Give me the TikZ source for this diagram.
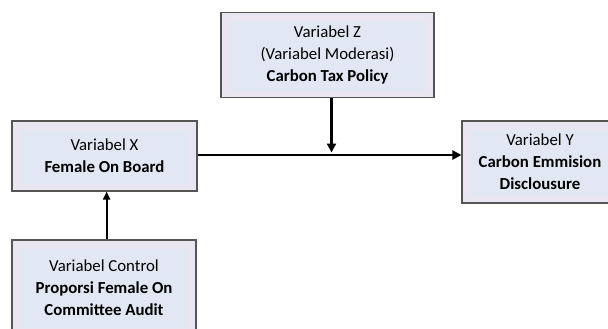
\documentclass[tikz,border=0pt]{standalone}
\usepackage{fontspec}
\setmainfont{Carlito}
\usetikzlibrary{arrows.meta}
\definecolor{boxouter}{RGB}{233,230,241}
\definecolor{boxinner}{RGB}{226,232,243}
\definecolor{boxline}{RGB}{85,85,85}
\tikzset{
  varbox/.style={draw=boxline, line width=1.1pt, fill=boxouter, rectangle, align=center,
    inner sep=0pt, font=\fontsize{16.8}{22}\selectfont,
    path picture={\fill[boxinner] ([shift={(8pt,-9pt)}]path picture bounding box.north west) rectangle ([shift={(-8pt,7pt)}]path picture bounding box.south east);}},
  mainarrow/.style={line width=2.8pt, -{Triangle[length=9pt,width=9pt]}},
  thinarrow/.style={line width=2pt, -{Triangle[length=8pt,width=7pt]}}
}
\begin{document}
\begin{tikzpicture}[x=1pt,y=-1pt]
\clip (0,0) rectangle (608,329);
\fill[white] (0,0) rectangle (608,329);
\node[varbox, minimum width=213pt, minimum height=85pt] (Z) at (327.5,55.2)
  {Variabel Z\\(Variabel Moderasi)\\\textbf{Carbon Tax Policy}};
\node[varbox, minimum width=185pt, minimum height=70pt] (X) at (104.5,156)
  {Variabel X\\\textbf{Female On Board}};
\node[varbox, minimum width=156pt, minimum height=82pt] (Y) at (540,162)
  {Variabel Y\\\textbf{Carbon Emmision}\\\textbf{Disclousure}};
\node[varbox, minimum width=184pt, minimum height=95pt] (C) at (104,287.5)
  {Variabel Control\\\textbf{Proporsi Female On}\\\textbf{Committee Audit}};
\coordinate (m) at (331.5,155);
\coordinate (cx) at (106.6,0);
\draw[mainarrow] (X.east |- m) -- (Y.west |- m);
\draw[mainarrow, shorten >=2.5pt] (Z.south -| m) -- (m);
\draw[thinarrow] (C.north -| cx) -- (X.south -| cx);
\end{tikzpicture}
\end{document}
